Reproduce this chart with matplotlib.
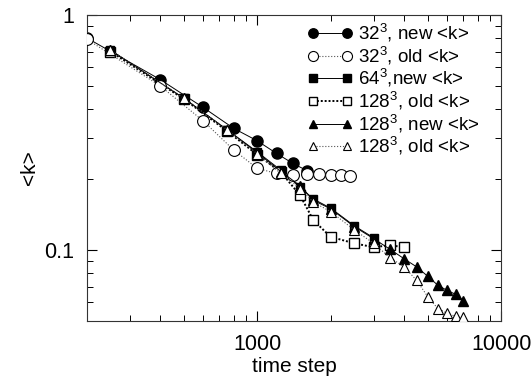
import matplotlib
matplotlib.use("Agg")
import matplotlib.pyplot as plt

plt.rcParams["font.family"] = ["Liberation Sans", "DejaVu Sans"]
plt.rcParams["mathtext.fontset"] = "custom"
plt.rcParams["mathtext.rm"] = "Liberation Sans"
plt.rcParams["mathtext.it"] = "Liberation Sans"
plt.rcParams["font.size"] = 15

# <k> against time step, for each lattice size
steps_32_new = [200, 400, 600, 800, 1000, 1200, 1400, 1600]
k_32_new = [0.80, 0.532, 0.405, 0.33, 0.292, 0.258, 0.234, 0.218]

steps_32_old = [200, 400, 600, 800, 1000, 1200, 1400, 1600, 1800, 2000, 2200, 2400]
k_32_old = [0.79, 0.50, 0.355, 0.267, 0.223, 0.212, 0.208, 0.21, 0.21, 0.209, 0.208, 0.207]

steps_64_new = [250, 500, 750, 1000, 1250, 1500, 1700, 2000, 2500, 3000]
k_64_new = [0.71, 0.443, 0.326, 0.262, 0.219, 0.185, 0.165, 0.151, 0.127, 0.113]

steps_128_old_a = [250, 500, 750, 1000, 1250, 1500, 1700, 2000, 2500, 3000, 3500, 4000]
k_128_old_a = [0.70, 0.44, 0.322, 0.255, 0.215, 0.171, 0.134, 0.114, 0.107, 0.103, 0.105, 0.103]

steps_128 = [250, 500, 750, 1000, 1250, 1500, 1700, 2000, 2500, 3000,
             3500, 4000, 4500, 5000, 5500, 6000, 6500, 7000]
k_128_new = [0.71, 0.443, 0.326, 0.26, 0.216, 0.188, 0.163, 0.150, 0.126, 0.112,
             0.101, 0.092, 0.085, 0.0775, 0.071, 0.0675, 0.065, 0.061]
k_128_old_b = [0.71, 0.443, 0.326, 0.257, 0.212, 0.183, 0.16, 0.146, 0.122, 0.107,
               0.093, 0.085, 0.0745, 0.0635, 0.0565, 0.054, 0.0523, 0.0518]

labels = ["32$^\\mathrm{3}$, new <k>", "32$^\\mathrm{3}$, old <k>", "64$^\\mathrm{3}$,new <k>",
          "128$^\\mathrm{3}$, old <k>", "128$^\\mathrm{3}$, new <k>", "128$^\\mathrm{3}$, old <k>"]

fig = plt.figure(figsize=(5.32, 3.77), dpi=100)
ax = fig.add_axes([0.163, 0.1485, 0.779, 0.8115])

ax.plot(steps_32_new, k_32_new, "-", color="black", lw=0.7, marker="o", ms=8,
        mfc="black", mec="black", label=labels[0], zorder=2)
ax.plot(steps_32_old, k_32_old, ":", color="#555555", lw=0.8, marker="o", ms=8.5,
        mfc="white", mec="black", mew=0.8, label=labels[1], zorder=3)
ax.plot(steps_64_new, k_64_new, "-", color="black", lw=0.7, marker="s", ms=6,
        mfc="black", mec="black", label=labels[2], zorder=2.5)
ax.plot(steps_128_old_a, k_128_old_a, color="black", lw=1.4, ls=(0, (1, 1)), marker="s", ms=6.5,
        mfc="white", mec="black", mew=1.0, label=labels[3], zorder=2.2)
ax.plot(steps_128, k_128_new, "-", color="black", lw=0.7, marker="^", ms=7,
        mfc="black", mec="black", label=labels[4], zorder=4)
ax.plot(steps_128, k_128_old_b, ":", color="#555555", lw=0.8, marker="^", ms=7,
        mfc="white", mec="black", mew=0.8, label=labels[5], zorder=5)

ax.set_xscale("log")
ax.set_yscale("log")
ax.set_xlim(200, 10000)
ax.set_ylim(0.05, 1)

ax.set_xticks([1000, 10000])
ax.set_xticklabels(["1000", "10000"])
ax.set_yticks([0.1, 1])
ax.set_yticklabels(["0.1", "1"])
ax.tick_params(which="both", direction="in", top=True, right=True)
ax.tick_params(which="major", length=7, width=0.8, pad=9, labelsize=15.5)
ax.tick_params(which="minor", length=4, width=0.7)
for s in ax.spines.values():
    s.set_linewidth(0.8)
    s.set_color("#333333")

ax.set_xlabel("time step", labelpad=2)
ax.set_ylabel("<k>", labelpad=4)

ax.legend(loc="upper left", bbox_to_anchor=(307 / 532, 1 - 22 / 377),
          bbox_transform=fig.transFigure, frameon=False, numpoints=2,
          fontsize=13.5, handlelength=2.42, handletextpad=0.29, labelspacing=0.03,
          borderpad=0, borderaxespad=0, markerscale=0.85)

fig.savefig("out.png", dpi=100)
